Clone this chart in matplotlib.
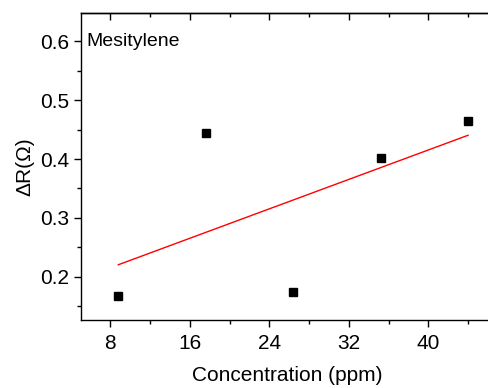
import numpy as np
import matplotlib
matplotlib.use("Agg")
import matplotlib.pyplot as plt
from matplotlib.ticker import MultipleLocator

plt.rcParams['font.family'] = ['Liberation Sans', 'DejaVu Sans']

conc = [8.8, 17.6, 26.4, 35.2, 44.0]
delta_r = [0.167, 0.445, 0.173, 0.402, 0.464]
x_ticks = [8, 16, 24, 32, 40]
y_ticks = [0.2, 0.3, 0.4, 0.5, 0.6]

fig = plt.figure(figsize=(4.89, 3.88), dpi=100)
W, H = 489, 388
ax = fig.add_axes([81/W, 1 - 320/H, (489 - 81)/W + 0.01, (320 - 12.7)/H])

ax.plot(conc, delta_r, 's', color='black', ms=5.3, zorder=3)
coef = np.polyfit(conc, delta_r, 1)
xf = np.array([conc[0], conc[-1]])
ax.plot(xf, np.polyval(coef, xf), color='red', lw=1)

ax.set_xlim(5.05, 46.6)
ax.set_ylim(0.126, 0.649)
ax.set_xticks(x_ticks)
ax.set_yticks(y_ticks)
ax.set_yticklabels([f"{v:.1f}" for v in y_ticks])
ax.xaxis.set_minor_locator(MultipleLocator(4))
ax.yaxis.set_minor_locator(MultipleLocator(0.05))
ax.tick_params(which='both', direction='out', labelsize=15, width=1)
ax.tick_params(which='major', length=5)
ax.tick_params(which='minor', length=3)
ax.tick_params(axis='x', which='major', pad=5)
ax.tick_params(axis='y', which='major', pad=3.5)
ax.spines['right'].set_visible(False)
for s in ['left', 'bottom', 'top']:
    ax.spines[s].set_linewidth(1)

# top axis inward ticks
axt = ax.secondary_xaxis('top')
axt.set_xticks(x_ticks)
axt.xaxis.set_minor_locator(MultipleLocator(4))
axt.tick_params(which='both', direction='in', labeltop=False, width=1)
axt.tick_params(which='major', length=5)
axt.tick_params(which='minor', length=3)
axt.spines['top'].set_linewidth(1)

ax.set_xlabel('Concentration (ppm)', fontsize=15, labelpad=9.5)
ax.set_ylabel('ΔR(Ω)', fontsize=15, labelpad=4)
ax.text(0.013, 0.935, 'Mesitylene', transform=ax.transAxes, fontsize=14,
        ha='left', va='top')

fig.savefig('out.png', dpi=100)
